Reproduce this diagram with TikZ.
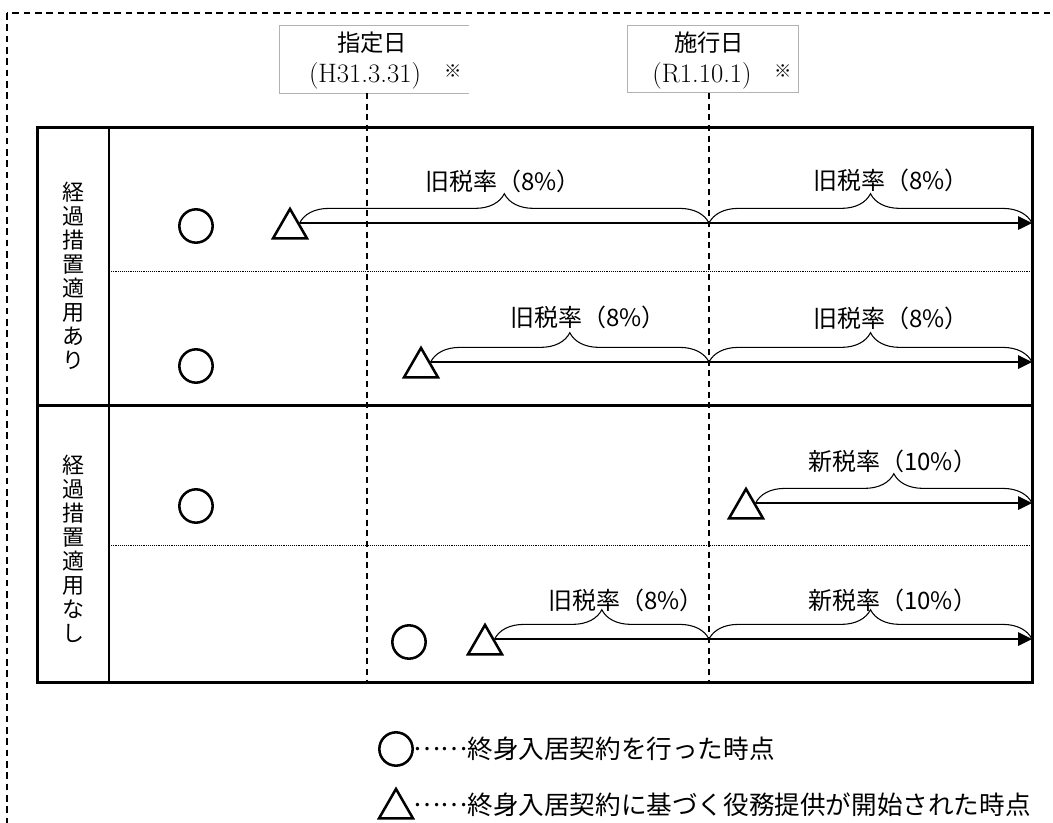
\documentclass[tikz,border=0pt]{standalone}
\usepackage{fontspec}
\newfontfamily\cjk{Noto Sans CJK JP}
\usetikzlibrary{arrows.meta,shapes.geometric,decorations.pathreplacing}

\newcommand{\legenddots}{\raisebox{0.32em}{……}}

\begin{document}
\begin{tikzpicture}[x=0.75pt,y=-0.75pt,
    signed/.style={circle,draw,line width=1.9pt,minimum size=25pt,inner sep=0pt},
    begins/.style={regular polygon,regular polygon sides=3,draw,line width=1.9pt,
                   minimum size=29.5pt,inner sep=0pt},
    timeline/.style={line width=1.5pt,-{Triangle[length=10.5pt,width=10pt]}},
    period/.style={decorate,decoration={brace,amplitude=22pt},line width=0.8pt},
    rate/.style={anchor=west,inner sep=0pt,font=\cjk\fontsize{18}{20}\selectfont},
    legend/.style={anchor=west,inner sep=0pt,font=\cjk\fontsize{19.2}{22}\selectfont},
    group/.style={align=center,inner sep=0pt,font=\cjk\fontsize{16.5}{18}\selectfont},
    datebox/.style={minimum height=50.25pt,inner sep=0pt},
    dateline/.style={line width=1.2pt,dash pattern=on 4.5pt off 3.5pt}]

  \useasboundingbox (0,0) rectangle (1053,823);
  \draw[line width=0.9pt,dash pattern=on 5pt off 3.5pt] (7,13) rectangle (1080,850);

  % header boxes
  \node[datebox,minimum width=141.75pt] (hb1) at (374.5,59.5) {};
  \draw[gray!60,line width=0.75pt] (hb1.north east) -- (hb1.north west)
       -- (hb1.south west) -- (hb1.south east);
  \node[datebox,minimum width=128.25pt,draw=gray!60,line width=0.75pt] (hb2) at (712.5,59.5) {};

  \node[font=\cjk\fontsize{17.5}{19}\selectfont] (n1) at (372,43) {指定日};
  \node[font=\fontsize{20}{22}\selectfont]       (h1) at (365,76) {(H31.3.31)};
  \node[font=\cjk\fontsize{13}{14}\selectfont]   (s1) at (453,71) {※};
  \node[font=\cjk\fontsize{17.5}{19}\selectfont] (n2) at (709,43) {施行日};
  \node[font=\fontsize{20}{22}\selectfont]       (h2) at (702,76) {(R1.10.1)};
  \node[font=\cjk\fontsize{13}{14}\selectfont]   (s2) at (783,71) {※};

  % table
  \coordinate (NW) at (37,128);
  \coordinate (SE) at (1032,682);
  \coordinate (d1) at (367,93);
  \coordinate (d2) at (709,93);
  \draw[line width=2.25pt] (NW) rectangle (SE);
  \draw[line width=1.5pt] (109,128) -- (109,682);
  \draw[line width=2.25pt] (37,406) -- (1032,406);
  \draw[line width=0.6pt,dash pattern=on 0.7pt off 0.7pt] (109,271) -- (1032,271);
  \draw[line width=0.6pt,dash pattern=on 0.7pt off 0.7pt] (109,545) -- (1032,545);
  \draw[dateline] (d1) -- (d1 |- SE);
  \draw[dateline] (d2) -- (d2 |- SE);

  \node[group] (g1) at (73,276) {経\\過\\措\\置\\適\\用\\あ\\り};
  \node[group] (g2) at (73,549) {経\\過\\措\\置\\適\\用\\な\\し};

  % rows
  \node[signed] (c1) at (196,226) {};
  \node[signed] (c2) at (196,366) {};
  \node[signed] (c3) at (196,506) {};
  \node[signed] (c4) at (409,642) {};
  \node[begins] (t1) at (290,228.6) {};
  \node[begins] (t2) at (421,367.6) {};
  \node[begins] (t3) at (746,508.6) {};
  \node[begins] (t4) at (485,644.6) {};

  \draw[timeline] (t1.side 3) -- (t1.side 3 -| SE);
  \draw[timeline] (t2.side 3) -- (t2.side 3 -| SE);
  \draw[timeline] (t3.side 3) -- (t3.side 3 -| SE);
  \draw[timeline] (t4.side 3) -- (t4.side 3 -| SE);

  \draw[period] (t1.side 3) -- (t1.side 3 -| d2);
  \draw[period] (t1.side 3 -| d2) -- (t1.side 3 -| SE);
  \draw[period] (t2.side 3) -- (t2.side 3 -| d2);
  \draw[period] (t2.side 3 -| d2) -- (t2.side 3 -| SE);
  \draw[period] (t3.side 3) -- (t3.side 3 -| SE);
  \draw[period] (t4.side 3) -- (t4.side 3 -| d2);
  \draw[period] (t4.side 3 -| d2) -- (t4.side 3 -| SE);

  \node[rate] (r1a) at (425,181) {旧税率（8\%）};
  \node[rate] (r1b) at (813,180) {旧税率（8\%）};
  \node[rate] (r2a) at (510,317) {旧税率（8\%）};
  \node[rate] (r2b) at (813,318) {旧税率（8\%）};
  \node[rate] (r3b) at (808,461) {新税率（10\%）};
  \node[rate] (r4a) at (548,600) {旧税率（8\%）};
  \node[rate] (r4b) at (808,600) {新税率（10\%）};

  % legend
  \node[signed] (lc) at (396,749) {};
  \node[begins] (lt) at (396,808.6) {};
  \node[legend] (l1) at (413,749) {\legenddots 終身入居契約を行った時点};
  \node[legend] (l2) at (413,805) {\legenddots 終身入居契約に基づく役務提供が開始された時点};
\end{tikzpicture}
\end{document}
